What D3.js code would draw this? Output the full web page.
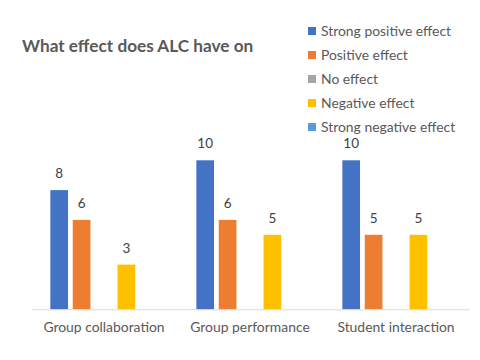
<!DOCTYPE html>
<html><head><meta charset="utf-8">
<script src="https://cdn.jsdelivr.net/npm/d3@7"></script>
<style>html,body{margin:0;padding:0;background:#fff;}svg{display:block;}</style>
</head><body>
<svg id="chart" width="480" height="360"></svg>
<script>
const categories = ["Group collaboration", "Group performance", "Student interaction"];
const seriesNames = ["Strong positive effect", "Positive effect", "No effect", "Negative effect", "Strong negative effect"];
const seriesColors = ["#4472C4", "#ED7D31", "#A5A5A5", "#FFC000", "#5B9BD5"];
const strongPositive = [8, 10, 10];
const positive = [6, 6, 5];
const noEffect = [null, null, null];
const negative = [3, 5, 5];
const strongNegative = [null, null, null];
const titleText = "What effect does ALC have on";

const seriesValues = [strongPositive, positive, noEffect, negative, strongNegative];
const font = "Lato, 'Open Sans', sans-serif";
const textColor = "#595959";

const svg = d3.select("#chart");
const plotLeft = 31, plotRight = 469, baseY = 309.3;

const x0 = d3.scaleBand().domain(categories).range([plotLeft, plotRight]).padding(0);
const groupSpan = 107.3;
const x1 = d3.scaleBand().domain(seriesNames).range([0, groupSpan]).paddingInner(0.21).paddingOuter(0);
const y = d3.scaleLinear().domain([0, 10]).range([baseY, 160.3]);

// bars
const data = [];
categories.forEach((c, ci) => {
  seriesNames.forEach((s, si) => {
    const v = seriesValues[si][ci];
    if (v != null) data.push({c, s, v, color: seriesColors[si]});
  });
});

const g = svg.append("g");
g.selectAll("rect.bar").data(data).join("rect")
  .attr("class", "bar")
  .attr("x", d => x0(d.c) + (x0.bandwidth() - groupSpan) / 2 + x1(d.s))
  .attr("y", d => y(d.v))
  .attr("width", x1.bandwidth())
  .attr("height", d => y(0) - y(d.v))
  .attr("fill", d => d.color);

g.selectAll("text.lbl").data(data).join("text")
  .attr("class", "lbl")
  .attr("x", d => x0(d.c) + (x0.bandwidth() - groupSpan) / 2 + x1(d.s) + x1.bandwidth() / 2)
  .attr("y", d => y(d.v) - 12)
  .attr("text-anchor", "middle")
  .attr("font-family", font)
  .attr("font-size", 13.5)
  .attr("fill", "#404040")
  .text(d => d.v);

// x axis
const xAxis = svg.append("g").attr("transform", `translate(0,${baseY})`)
  .call(d3.axisBottom(x0).tickSize(0).tickPadding(13));
xAxis.select(".domain").attr("stroke", "#D9D9D9").attr("stroke-width", 1);
xAxis.selectAll("text").attr("font-family", font).attr("font-size", 13.9).attr("fill", textColor);

// title
svg.append("text")
  .attr("x", 22).attr("y", 52)
  .attr("font-family", font)
  .attr("font-size", 17.2)
  .attr("font-weight", "bold")
  .attr("fill", textColor)
  .text(titleText);

// legend
const legend = svg.append("g");
const lg = legend.selectAll("g").data(seriesNames).join("g")
  .attr("transform", (d, i) => `translate(308,${31 + i * 24})`);
lg.append("rect").attr("x", 0).attr("y", -4).attr("width", 8).attr("height", 8)
  .attr("fill", (d, i) => seriesColors[i]);
lg.append("text").attr("x", 13).attr("y", 0).attr("dy", "0.35em")
  .attr("font-family", font).attr("font-size", 13.9).attr("fill", textColor)
  .text(d => d);
</script>
</body></html>
